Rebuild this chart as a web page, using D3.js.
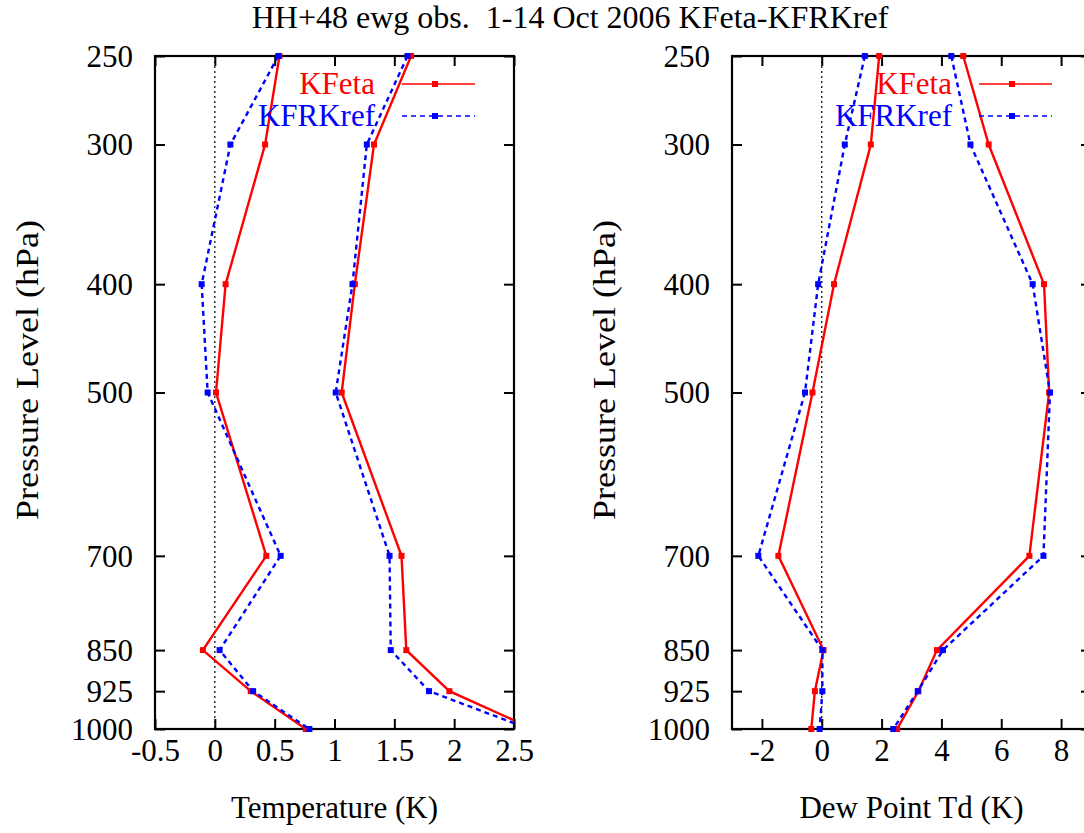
<!DOCTYPE html>
<html>
<head>
<meta charset="utf-8">
<script src="https://cdn.jsdelivr.net/npm/d3@7"></script>
<style>
  html, body { margin: 0; padding: 0; background: #fff; }
  svg { display: block; }
  text { font-family: "Liberation Serif", "Times New Roman", serif; }
</style>
</head>
<body>
<svg id="chart" width="1084" height="833"></svg>
<script>
// ---- data ----
const levels = [250, 300, 400, 500, 700, 850, 925, 1000];
const pressureTicks = [250, 300, 400, 500, 700, 850, 925, 1000];

const tempTicks = [-0.5, 0, 0.5, 1, 1.5, 2, 2.5];
const tempTickLabels = ["-0.5", "0", "0.5", "1", "1.5", "2", "2.5"];
const tempKFetaBias   = [0.54, 0.42, 0.09, 0.01, 0.43, -0.10, 0.30, 0.76];
const tempKFRKrefBias = [0.53, 0.13, -0.11, -0.06, 0.55, 0.04, 0.32, 0.79];
const tempKFetaRms    = [1.64, 1.33, 1.17, 1.06, 1.56, 1.60, 1.96, 2.66];
const tempKFRKrefRms  = [1.61, 1.27, 1.15, 1.01, 1.46, 1.47, 1.79, 2.63];

const tdTicks = [-2, 0, 2, 4, 6, 8];
const tdTickLabels = ["-2", "0", "2", "4", "6", "8"];
const tdKFetaBias   = [1.92, 1.64, 0.41, -0.31, -1.45, 0.06, -0.23, -0.35];
const tdKFRKrefBias = [1.44, 0.77, -0.12, -0.56, -2.12, 0.02, 0.02, -0.07];
const tdKFetaRms    = [4.73, 5.58, 7.43, 7.60, 6.94, 3.85, 3.23, 2.52];
const tdKFRKrefRms  = [4.33, 4.97, 7.05, 7.63, 7.41, 4.05, 3.21, 2.39];

const seriesNames = ["KFeta", "KFRKref"];
const seriesColors = ["#ff0000", "#0000ff"];
const titleText = "HH+48 ewg obs.  1-14 Oct 2006 KFeta-KFRKref";

// ---- layout ----
const svg = d3.select("#chart");
const FS = 31;
const plotTop = 56, plotBottom = 729;

svg.append("text")
  .attr("x", 570).attr("y", 28)
  .attr("text-anchor", "middle")
  .attr("font-size", 32)
  .attr("xml:space", "preserve")
  .style("white-space", "pre")
  .text(titleText);

const y = d3.scaleLog().domain([250, 1000]).range([plotTop, plotBottom]);

function panel(id, left, right, xDomain, ticks, tickLabels, seriesList, xTitle) {
  const x = d3.scaleLinear().domain(xDomain).range([left, right]);
  const g = svg.append("g");

  const clipId = "clip-" + id;
  svg.append("defs").append("clipPath").attr("id", clipId)
    .append("rect").attr("x", left).attr("y", plotTop - 4)
    .attr("width", right - left).attr("height", plotBottom - plotTop + 8);

  // zero line
  g.append("line")
    .attr("x1", x(0)).attr("x2", x(0))
    .attr("y1", plotTop).attr("y2", plotBottom)
    .attr("stroke", "#000").attr("stroke-width", 1.2)
    .attr("stroke-dasharray", "2,3");

  // axes (ticks inward, mirrored)
  const tl = 10;
  const axB = d3.axisBottom(x).tickValues(ticks).tickSize(-tl).tickFormat((d, i) => tickLabels[i]).tickPadding(tl + 8);
  const axT = d3.axisTop(x).tickValues(ticks).tickSize(-tl).tickFormat("");
  const axL = d3.axisLeft(y).tickValues(pressureTicks).tickSize(-tl).tickFormat(d3.format("d")).tickPadding(tl + 12);
  const axR = d3.axisRight(y).tickValues(pressureTicks).tickSize(-tl).tickFormat("");

  function styleAxis(sel) {
    sel.select(".domain").remove();
    sel.selectAll(".tick line").attr("stroke", "#000").attr("stroke-width", 2);
    sel.selectAll(".tick text").attr("font-size", FS).attr("fill", "#000")
      .style("font-family", '"Liberation Serif", serif');
  }
  g.append("g").attr("transform", `translate(0,${plotBottom})`).call(axB).call(styleAxis)
    .selectAll(".tick text").attr("dy", "0.45em");
  g.append("g").attr("transform", `translate(0,${plotTop})`).call(axT).call(styleAxis);
  g.append("g").attr("transform", `translate(${left},0)`).call(axL).call(styleAxis)
    .selectAll(".tick text").attr("dy", "0.33em");
  g.append("g").attr("transform", `translate(${right},0)`).call(axR).call(styleAxis);

  // frame
  g.append("rect")
    .attr("x", left).attr("y", plotTop)
    .attr("width", right - left).attr("height", plotBottom - plotTop)
    .attr("fill", "none").attr("stroke", "#000").attr("stroke-width", 2.2);

  // series
  const dg = g.append("g").attr("clip-path", `url(#${clipId})`);
  const line = d3.line().x(d => x(d[0])).y(d => y(d[1]));
  seriesList.forEach(s => {
    const pts = s.values.map((v, i) => [v, levels[i]]);
    dg.append("path").datum(pts)
      .attr("d", line)
      .attr("fill", "none")
      .attr("stroke", seriesColors[s.k])
      .attr("stroke-width", 2.4)
      .attr("stroke-dasharray", s.k === 1 ? "5,4" : null);
    dg.selectAll(null).data(pts).enter().append("rect")
      .attr("x", d => x(d[0]) - 3).attr("y", d => y(d[1]) - 3)
      .attr("width", 6).attr("height", 6)
      .attr("fill", seriesColors[s.k]);
  });

  // legend
  seriesNames.forEach((name, k) => {
    const ly = [84, 116][k];
    g.append("text")
      .attr("x", right - 139).attr("y", ly + 10)
      .attr("text-anchor", "end")
      .attr("font-size", FS)
      .attr("fill", seriesColors[k])
      .text(name);
    g.append("line")
      .attr("x1", right - 112).attr("x2", right - 39)
      .attr("y1", ly).attr("y2", ly)
      .attr("stroke", seriesColors[k]).attr("stroke-width", 1.5)
      .attr("stroke-dasharray", k === 1 ? "5,4" : null);
    g.append("rect")
      .attr("x", right - 79 - 3).attr("y", ly - 3)
      .attr("width", 6).attr("height", 6)
      .attr("fill", seriesColors[k]);
  });

  // axis titles
  g.append("text")
    .attr("x", (left + right) / 2).attr("y", 818)
    .attr("text-anchor", "middle").attr("font-size", FS)
    .text(xTitle);
  g.append("text")
    .attr("transform", `translate(${left - 117},370) rotate(-90)`)
    .attr("text-anchor", "middle").attr("font-size", FS)
    .attr("textLength", 300).attr("lengthAdjust", "spacingAndGlyphs")
    .text("Pressure Level (hPa)");
}

panel("t", 155, 514, [-0.5, 2.5], tempTicks, tempTickLabels, [
  { k: 0, values: tempKFetaBias },
  { k: 1, values: tempKFRKrefBias },
  { k: 0, values: tempKFetaRms },
  { k: 1, values: tempKFRKrefRms }
], "Temperature (K)");

panel("td", 732, 1091, [-3, 9], tdTicks, tdTickLabels, [
  { k: 0, values: tdKFetaBias },
  { k: 1, values: tdKFRKrefBias },
  { k: 0, values: tdKFetaRms },
  { k: 1, values: tdKFRKrefRms }
], "Dew Point Td (K)");
</script>
</body>
</html>
